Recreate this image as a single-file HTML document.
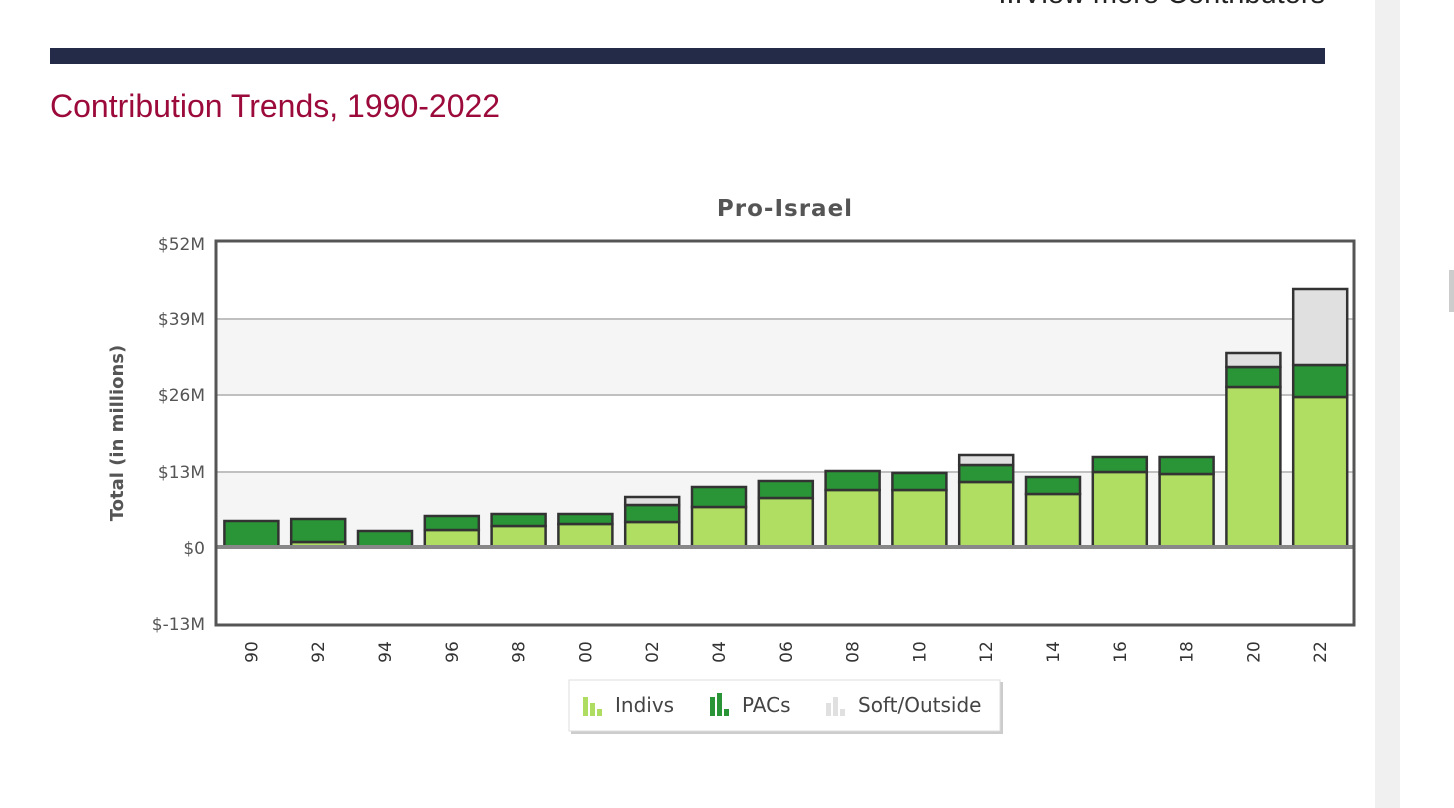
<!DOCTYPE html>
<html><head><meta charset="utf-8"><style>
body{margin:0;width:1454px;height:808px;overflow:hidden;background:#fff;font-family:"Liberation Sans",sans-serif;position:relative}
</style></head><body>
<div style="position:absolute;left:962px;top:-22px;font-size:29px;color:#222;width:363px;text-align:right;white-space:nowrap">...View more Contributors</div>
<div style="position:absolute;left:50px;top:48px;width:1275px;height:16px;background:#232b48"></div>
<div style="position:absolute;left:50px;top:88px;font-size:32px;color:#9b0a3a">Contribution Trends, 1990-2022</div>
<div style="position:absolute;left:1375px;top:0;width:25px;height:808px;background:#f0f0f0"></div>
<div style="position:absolute;left:1449px;top:270px;width:5px;height:42px;background:#ccc"></div>
<svg width="1454" height="808" style="position:absolute;left:0;top:0" font-family="DejaVu Sans, sans-serif">
<text x="785" y="216" text-anchor="middle" font-size="23" font-weight="bold" fill="#555" letter-spacing="1">Pro-Israel</text>
<rect x="216" y="319" width="1138" height="76" fill="#f5f5f5"/>
<rect x="216" y="472" width="1138" height="75" fill="#f5f5f5"/>
<g stroke="#c0c0c0" stroke-width="2"><line x1="216" x2="1354" y1="319" y2="319"/><line x1="216" x2="1354" y1="395" y2="395"/><line x1="216" x2="1354" y1="472" y2="472"/></g>
<g font-size="17" fill="#555" text-anchor="end">
<text x="205" y="250">$52M</text><text x="205" y="325">$39M</text><text x="205" y="401">$26M</text><text x="205" y="478">$13M</text><text x="205" y="554">$0</text><text x="205" y="630">$-13M</text></g>
<text transform="translate(123,433) rotate(-90)" text-anchor="middle" font-size="18" font-weight="bold" fill="#555">Total (in millions)</text>
<g id="bars" stroke="#333" stroke-width="2.5"></g>
<line x1="216" x2="1354" y1="547" y2="547" stroke="#888" stroke-width="4"/>
<rect x="216" y="241" width="1138" height="384" fill="none" stroke="#555" stroke-width="3"/>
<g id="xl" font-size="17" fill="#333"></g>
<g transform="translate(569,680)">
<rect x="2" y="2" width="432" height="52" fill="#ccc"/>
<rect x="0" y="0" width="431" height="51" fill="#fff" stroke="#ddd"/>
<g fill="#aedd62"><rect x="14" y="17" width="5" height="19"/><rect x="21" y="23" width="5" height="13"/><rect x="28" y="29" width="5" height="7"/></g>
<text x="46" y="32" font-size="20" fill="#444">Indivs</text>
<g fill="#2a9537"><rect x="141" y="17" width="5" height="19"/><rect x="148" y="13" width="5" height="23"/><rect x="155" y="29" width="5" height="7"/></g>
<text x="173" y="32" font-size="20" fill="#444">PACs</text>
<g fill="#e0e0e0"><rect x="257" y="23" width="5" height="13"/><rect x="264" y="17" width="5" height="19"/><rect x="271" y="29" width="5" height="7"/></g>
<text x="289" y="32" font-size="20" fill="#444">Soft/Outside</text>
</g>
</svg>
<script>
var d=[[547,521,null],[542,519,null],[547,531,null],[530,516,null],[526,514,null],[524,514,null],[522,505,497],[507,487,null],[498,481,null],[490,471,null],[490,473,null],[482,465,455],[494,477,null],[472,457,null],[474,457,null],[387,367,353],[397,365,289]];
var labs=["90","92","94","96","98","00","02","04","06","08","10","12","14","16","18","20","22"];
var ns="http://www.w3.org/2000/svg",g=document.getElementById("bars"),xl=document.getElementById("xl");
function r(x,y1,y2,f){if(y2-y1<=0)return;var e=document.createElementNS(ns,"rect");e.setAttribute("x",x);e.setAttribute("y",y1);e.setAttribute("width",54);e.setAttribute("height",y2-y1);e.setAttribute("fill",f);g.appendChild(e);}
d.forEach(function(b,i){var c=218+66.8*(i+0.5),x=c-27;
r(x,b[0],547,"#b0de63");r(x,b[1],b[0],"#2a9537");if(b[2])r(x,b[2],b[1],"#e0e0e0");
var t=document.createElementNS(ns,"text");t.setAttribute("transform","translate("+(c+6)+",652) rotate(-90)");t.setAttribute("text-anchor","middle");t.textContent=labs[i];xl.appendChild(t);});
</script>
</body></html>
